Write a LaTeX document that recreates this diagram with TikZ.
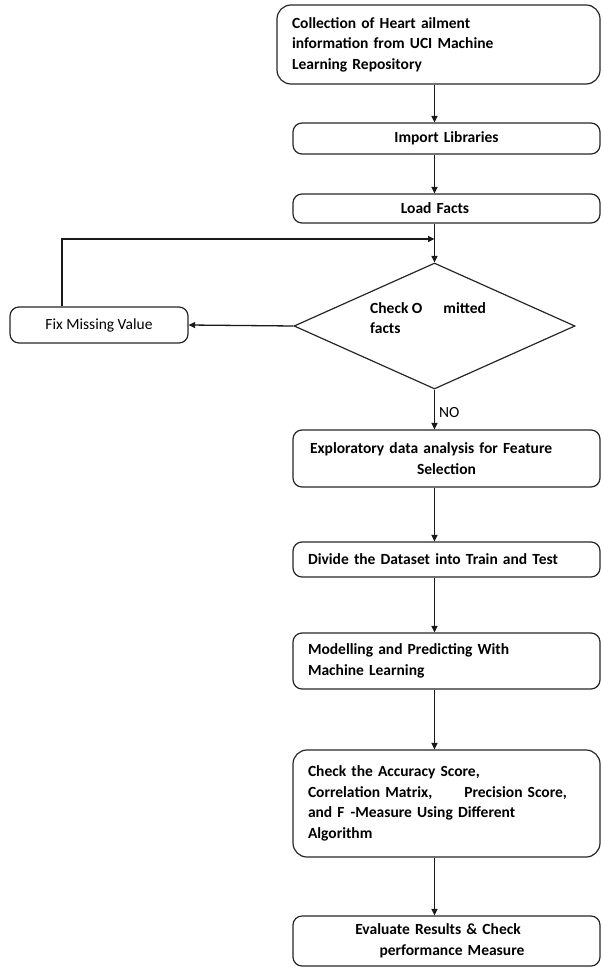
\documentclass[tikz,border=0pt]{standalone}
\usepackage{fontspec}
\setmainfont{Carlito}
\usetikzlibrary{arrows.meta,shapes.geometric}
\begin{document}
\begin{tikzpicture}[x=1pt,y=-1pt,
  font=\fontsize{15.5}{20.5}\selectfont,
  box/.style={draw=black!85,line width=1.2pt,rounded corners=9pt,inner sep=0pt,font=\fontsize{15.5}{20.5}\selectfont\bfseries},
  conn/.style={draw=black!90,line width=1.3pt,-{Triangle[length=6.5pt,width=6pt]}},
  plain/.style={draw=black!90,line width=1.3pt}]
\useasboundingbox (0,0) rectangle (602,968);
\coordinate (spine) at (434.5,0);
% boxes
\node[box,rounded corners=14pt,minimum width=323pt,minimum height=79pt,text width=293pt,align=left] (b1) at (438.5,44.5)
  {Collection of Heart ailment\\information from UCI Machine\\Learning Repository};
\node[box,minimum width=307pt,minimum height=31pt,text width=277pt,align=center] (b2) at (446.5,138.5) {Import Libraries};
\node[box,minimum width=307pt,minimum height=29pt,text width=277pt,align=center] (b3) at (446.5,208.5) {\hspace*{-23pt}Load Facts};
\node[diamond,draw=black!85,line width=1.2pt,inner sep=0pt,minimum width=281pt,minimum height=126pt] (d) at (434.5,326) {};
\node[anchor=west,align=left,font=\fontsize{15.5}{20.5}\selectfont\bfseries,inner sep=0pt] (dt) at (370,318) {Check O\hspace*{21pt}mitted\\facts};
\node[box,font=\fontsize{15.5}{20.5}\selectfont,minimum width=178pt,minimum height=36pt] (fix) at (99,325) {Fix Missing Value};
\node[box,minimum width=307pt,minimum height=57pt,text width=277pt,align=left] (b4) at (446.5,458.5)
  {\hspace*{2pt}Exploratory data analysis for Feature\\\makebox[277pt][c]{Selection}};
\node[box,minimum width=307pt,minimum height=35pt,text width=277pt,align=left] (b5) at (446.5,559.5) {Divide the Dataset into Train and Test};
\node[box,minimum width=307pt,minimum height=56pt,text width=277pt,align=left] (b6) at (446.5,661)
  {Modelling and Predicting With\\Machine Learning};
\node[box,rounded corners=14pt,minimum width=307pt,minimum height=107pt,text width=277pt,align=left] (b7) at (446.5,803.5)
  {Check the Accuracy Score,\\Correlation Matrix,\hspace*{32pt}Precision Score,\\and F\hspace*{6pt}-Measure Using Different\\Algorithm};
\node[box,minimum width=307pt,minimum height=50pt,text width=277pt,align=center] (b8) at (446.5,941)
  {\hspace*{-17pt}Evaluate Results \& Check\\\hspace*{11pt}performance Measure};
\node[anchor=west,inner sep=0pt] (no) at (439,413) {NO};
% connectors
\draw[conn] (b1.south -| spine) -- (b2.north -| spine);
\draw[conn] (b2.south -| spine) -- (b3.north -| spine);
\draw[conn] (b3.south -| spine) -- (d.north);
\coordinate (loop) at (62,239);
\draw[conn] (fix.north -| loop) -- (loop) -- (loop -| spine);
\draw[conn] (d.west) -- (fix.east);
\draw[conn] (d.south) -- (b4.north -| spine);
\draw[conn] (b4.south -| spine) -- (b5.north -| spine);
\draw[conn] (b5.south -| spine) -- (b6.north -| spine);
\draw[conn] (b6.south -| spine) -- (b7.north -| spine);
\draw[conn] (b7.south -| spine) -- (b8.north -| spine);
\end{tikzpicture}
\end{document}
